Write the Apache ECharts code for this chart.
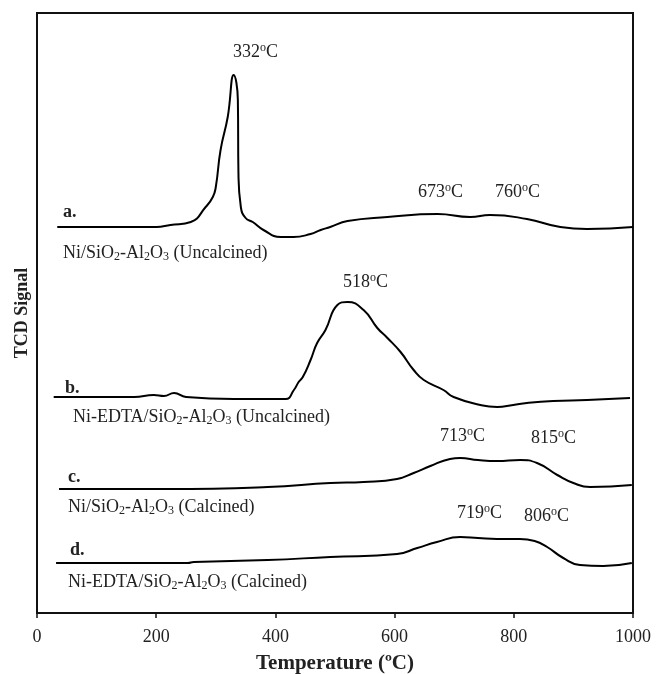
<!DOCTYPE html>
<html>
<head>
<meta charset="utf-8">
<script src="https://cdn.jsdelivr.net/npm/echarts@6/dist/echarts.min.js"></script>
<style>
  html, body { margin: 0; padding: 0; background: #fff; }
  #main { width: 656px; height: 674px; }
</style>
</head>
<body>
<div id="main"></div>
<script>
// TPR curves, [temperature in ºC, signal in arbitrary units]
const curveA = [
  [34, 386], [200, 386], [224, 388], [258, 391], [283, 406], [295, 416], [300, 426],
  [308, 463], [320, 496], [330, 538], [337, 513], [338, 440], [342, 406], [350, 395],
  [362, 391], [380, 383], [409, 376], [430, 376], [459, 379], [476, 383], [492, 386],
  [521, 392], [588, 396], [672, 399], [727, 396], [760, 398], [822, 394], [878, 386],
  [923, 384], [1000, 386]
];
const curveB = [
  [28, 216], [163, 216], [196, 218], [213, 217], [230, 220], [250, 216], [330, 214],
  [417, 214], [431, 223], [439, 231], [446, 236], [459, 253], [470, 270], [484, 283],
  [504, 308], [521, 311], [548, 303], [571, 285], [588, 275], [610, 261], [632, 243],
  [649, 233], [682, 223], [699, 216], [744, 208], [772, 206], [799, 208], [822, 210],
  [866, 212], [923, 213], [995, 215]
];
const curveC = [
  [37, 124], [219, 124], [387, 126], [492, 130], [548, 131], [604, 134], [632, 140],
  [660, 147], [693, 154], [710, 155], [740, 153], [772, 152], [811, 153], [839, 150],
  [873, 138], [900, 130], [928, 126], [998, 128]
];
const curveD = [
  [32, 50], [253, 50], [263, 51], [387, 53], [492, 56], [604, 59], [638, 65],
  [671, 71], [710, 76], [740, 75], [772, 74], [810, 74], [835, 72], [856, 66],
  [883, 55], [911, 48], [950, 47], [998, 50]
];

const xTicks = [0, 200, 400, 600, 800, 1000];
const curveLetters = ['a.', 'b.', 'c.', 'd.'];
const sampleNames = [
  'Ni/SiO{sub|2}-Al{sub|2}O{sub|3} (Uncalcined)',
  'Ni-EDTA/SiO{sub|2}-Al{sub|2}O{sub|3} (Uncalcined)',
  'Ni/SiO{sub|2}-Al{sub|2}O{sub|3} (Calcined)',
  'Ni-EDTA/SiO{sub|2}-Al{sub|2}O{sub|3} (Calcined)'
];
const peakTemps = ['332', '673', '760', '518', '713', '815', '719', '806'];

const chart = echarts.init(document.getElementById('main'));
const serif = '"Liberation Serif", "Times New Roman", serif';
const txtColor = '#222';

const rich = {
  sub: { fontSize: 12, fontFamily: serif, fill: txtColor, padding: [8, 0, 0, 0] },
  sup: { fontSize: 12, fontFamily: serif, fill: txtColor, padding: [0, 0, 9, 0] }
};

function label(text, x, y, bold) {
  return {
    type: 'text',
    x: x,
    y: y,
    style: {
      text: text,
      fill: txtColor,
      font: (bold ? 'bold ' : '') + '18px ' + serif,
      verticalAlign: 'middle',
      rich: rich
    }
  };
}

// label positions (pixels)
const letterPos = [[63, 212], [65, 388], [68, 477], [70, 550]];
const namePos = [[63, 253], [73, 417], [68, 507], [68, 582]];
const peakPos = [[233, 52], [418, 192], [495, 192], [343, 282], [440, 436], [531, 438], [457, 513], [524, 516]];

const graphics = [];
curveLetters.forEach((t, i) => graphics.push(label(t, letterPos[i][0], letterPos[i][1], true)));
sampleNames.forEach((t, i) => graphics.push(label(t, namePos[i][0], namePos[i][1], false)));
peakTemps.forEach((t, i) => graphics.push(label(t + '{sup|o}C', peakPos[i][0], peakPos[i][1], false)));

function line(data) {
  return {
    type: 'line',
    data: data,
    smooth: 0.5,
    showSymbol: false,
    lineStyle: { color: '#000', width: 2 }
  };
}

const option = {
  animation: false,
  backgroundColor: '#fff',
  grid: {
    left: 37, right: 23, top: 13, bottom: 61,
    outerBoundsMode: 'none',
    containLabel: false,
    show: true, borderColor: '#111', borderWidth: 2
  },
  xAxis: {
    type: 'value',
    min: xTicks[0],
    max: xTicks[xTicks.length - 1],
    interval: 200,
    name: 'Temperature (ºC)',
    nameLocation: 'middle',
    nameGap: 40,
    nameTextStyle: { fontFamily: serif, fontWeight: 'bold', fontSize: 21, color: txtColor },
    axisLine: { lineStyle: { color: '#111', width: 2 } },
    axisTick: { show: true, length: 5, lineStyle: { color: '#111', width: 1.5 } },
    axisLabel: { fontFamily: serif, fontSize: 18, color: txtColor, margin: 15, formatter: v => String(v) },
    splitLine: { show: false }
  },
  yAxis: {
    type: 'value',
    min: 0,
    max: 600,
    name: 'TCD Signal',
    nameLocation: 'middle',
    nameGap: 6,
    nameTextStyle: { fontFamily: serif, fontWeight: 'bold', fontSize: 18, color: txtColor },
    axisLine: { show: true, lineStyle: { color: '#111', width: 2 } },
    axisTick: { show: false },
    axisLabel: { show: false },
    splitLine: { show: false }
  },
  series: [line(curveA), line(curveB), line(curveC), line(curveD)],
  graphic: graphics
};

chart.setOption(option);
</script>
</body>
</html>
